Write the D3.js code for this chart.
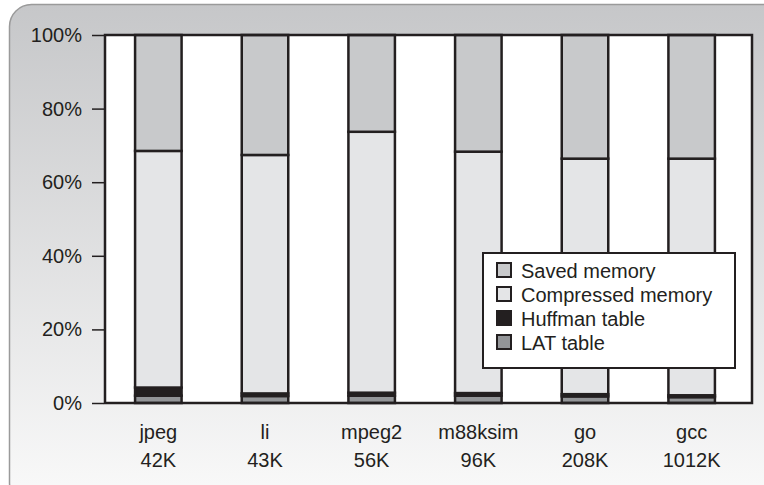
<!DOCTYPE html>
<html><head><meta charset="utf-8">
<script src="https://cdn.jsdelivr.net/npm/d3@7"></script>
<style>html,body{margin:0;padding:0;background:#fff;}svg{display:block;}</style>
</head><body>
<script>
const categories = ["jpeg","li","mpeg2","m88ksim","go","gcc"];
const sizes = ["42K","43K","56K","96K","208K","1012K"];
const seriesNames = ["LAT table","Huffman table","Compressed memory","Saved memory"];
const latTable = [2.0, 1.9, 2.0, 2.0, 1.8, 1.6];
const huffmanTable = [2.2, 0.7, 0.8, 0.7, 0.6, 0.5];
const compressedMemory = [64.3, 64.8, 70.9, 65.6, 64.0, 64.3];
const savedMemory = [31.5, 32.6, 26.3, 31.7, 33.6, 33.6];
const yTicks = [0, 20, 40, 60, 80, 100];
const colors = {"LAT table":"#939598","Huffman table":"#231f20","Compressed memory":"#e4e5e7","Saved memory":"#c8c9cb"};

const W = 764, H = 485;
const svg = d3.select("body").append("svg").attr("width", W).attr("height", H);
const defs = svg.append("defs");
const grad = defs.append("linearGradient").attr("id","bg").attr("x1",0).attr("y1",0).attr("x2",0).attr("y2",1);
grad.append("stop").attr("offset","0%").attr("stop-color","#c6c7c9");
grad.append("stop").attr("offset","100%").attr("stop-color","#fafafa");
svg.append("rect").attr("x",9.5).attr("y",4.5).attr("width",800).attr("height",500).attr("rx",22)
  .attr("fill","url(#bg)").attr("stroke","#9a9a9a").attr("stroke-width",1.5);

const m = {left:105, top:35, right:752, bottom:403};
const x = d3.scaleBand().domain(categories).range([m.left, 745]).paddingInner(0.564).paddingOuter(0.282);
const y = d3.scaleLinear().domain([0,100]).range([m.bottom, m.top]);

svg.append("rect").attr("x",m.left).attr("y",m.top).attr("width",m.right-m.left).attr("height",m.bottom-m.top).attr("fill","#fff");

const table = categories.map((c,i)=>({cat:c, "LAT table":latTable[i], "Huffman table":huffmanTable[i], "Compressed memory":compressedMemory[i], "Saved memory":savedMemory[i]}));
const stack = d3.stack().keys(seriesNames)(table);

svg.append("g").selectAll("g").data(stack).join("g").attr("fill", d=>colors[d.key])
  .selectAll("rect").data(d=>d).join("rect")
  .attr("x", d=>x(d.data.cat)).attr("width", x.bandwidth())
  .attr("y", d=>y(Math.min(100,d[1]))).attr("height", d=>y(d[0])-y(Math.min(100,d[1])))
  .attr("stroke","#231f20").attr("stroke-width",2.5);

svg.append("rect").attr("x",m.left).attr("y",m.top).attr("width",m.right-m.left).attr("height",m.bottom-m.top)
  .attr("fill","none").attr("stroke","#231f20").attr("stroke-width",2.5);

const yAxis = d3.axisLeft(y).tickValues(yTicks).tickFormat(d=>d+"%").tickSize(12).tickPadding(10);
const ga = svg.append("g").attr("transform",`translate(${m.left-1},0)`).call(yAxis);
ga.select(".domain").remove();
ga.selectAll("line").attr("stroke","#231f20").attr("stroke-width",1.5);
ga.selectAll("text").attr("font-family","Liberation Sans, Arial, sans-serif").attr("font-size",20).attr("fill","#231f20");

const xl = svg.append("g");
categories.forEach((c,i)=>{
  const cx = x(c) + x.bandwidth()/2;
  xl.append("text").attr("x",cx).attr("y",439).attr("text-anchor","middle")
    .attr("font-family","Liberation Sans, Arial, sans-serif").attr("font-size",20).attr("fill","#231f20").text(c);
  xl.append("text").attr("x",cx).attr("y",467).attr("text-anchor","middle")
    .attr("font-family","Liberation Sans, Arial, sans-serif").attr("font-size",20).attr("fill","#231f20").text(sizes[i]);
});

const lg = svg.append("g");
lg.append("rect").attr("x",483).attr("y",253).attr("width",252).attr("height",115).attr("fill","#fff").attr("stroke","#231f20").attr("stroke-width",2);
const legendOrder = ["Saved memory","Compressed memory","Huffman table","LAT table"];
legendOrder.forEach((k,i)=>{
  const by = 278 + i*24;
  lg.append("rect").attr("x",497).attr("y",by-15).attr("width",14).attr("height",14)
    .attr("fill",colors[k]).attr("stroke","#231f20").attr("stroke-width",2);
  lg.append("text").attr("x",521).attr("y",by).text(k)
    .attr("font-family","Liberation Sans, Arial, sans-serif").attr("font-size",20).attr("fill","#231f20");
});
</script>
</body></html>
